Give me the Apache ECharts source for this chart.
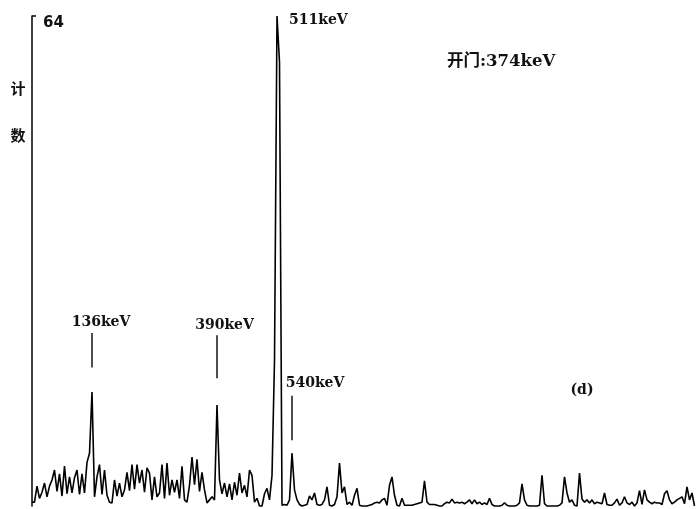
<!DOCTYPE html>
<html><head><meta charset="utf-8">
<script src="https://cdn.jsdelivr.net/npm/echarts@6/dist/echarts.min.js"></script>
<style>html,body{margin:0;padding:0;background:#fff}#c{width:697px;height:509px}</style>
</head><body><div id="c"></div>
<script>
// counts per channel (channel index 0..265)
const counts = [
0.5,0.5,2.6,1.0,1.8,3.0,1.2,2.6,3.4,4.7,
1.9,4.2,1.3,5.2,1.6,3.8,1.7,3.7,4.7,1.5,
4.2,1.7,5.7,6.9,14.9,1.2,3.8,5.4,1.5,4.7,
1.4,0.5,0.4,3.4,1.3,3.0,1.2,2.1,4.4,2.0,
5.4,2.2,5.4,3.0,4.7,1.8,5.0,4.3,0.8,3.8,
1.2,1.7,5.4,1.0,5.6,1.4,3.4,1.8,3.4,1.0,
5.2,0.8,0.5,2.7,6.4,2.8,6.1,1.9,4.4,2.1,
0.4,0.8,1.2,0.8,13.2,3.4,1.6,3.0,1.2,2.9,
0.8,3.1,1.4,4.3,1.7,2.7,1.2,4.7,4.0,0.5,
1.0,0,0,1.6,2.3,0.8,4.0,19,64,58,
0.1,0.2,0.1,0.8,6.9,2.1,0.8,0.2,0,0.1,
0.2,1.3,0.8,1.7,0.2,0.1,0.2,0.8,2.5,0.1,
0,0.2,1.2,5.6,1.7,2.5,0.2,0.5,0.1,1.4,
2.3,0.1,0,0,0,0.1,0.2,0.4,0.5,0.4,
0.8,1.0,0.1,2.7,3.8,1.4,0.1,0,1.0,0.1,
0.1,0.1,0.1,0.2,0.3,0.4,0.5,3.3,0.5,0.2,
0.2,0.2,0.1,0,0,0.3,0.5,0.4,0.9,0.4,
0.5,0.4,0.5,0.3,0.5,0.8,0.3,0.8,0.3,0.5,
0.2,0.4,0.2,1.0,0.2,0,0,0,0.1,0.4,
0.1,0,0,0,0.1,0.4,2.9,0.8,0.1,0,
0,0,0,0.1,4.0,0.3,0,0,0,0,
0,0.1,0.4,3.8,1.7,0.5,0.8,0.1,0,4.3,
0.9,0.5,0.8,0.4,0.8,0.3,0.5,0.4,0.3,1.7,
0.2,0.1,0.1,0.4,0.9,0.1,0.4,1.2,0.4,0.2,
0.5,0,0.4,2.0,0.2,2.1,0.8,0.5,0.3,0.5,
0.4,0.4,0.2,1.6,2.0,0.8,0.3,0.5,0.8,1.0,
1.2,0.3,2.5,0.8,1.7,0
];
const yMax = 64;
const yTickLabels = ['64'];
const yNameChars = ['计', '数'];
// peak markers: channel, lower end, upper end (counts)
const markerLabels = ['136keV', '390keV', '540keV'];
const markerChannels = [24, 74, 104];
const markerFrom = [18.1, 16.7, 8.6];
const markerTo = [22.6, 22.3, 14.4];
const mainPeakLabel = '511keV';
const mainPeakChannel = 98;
const gateText = '开门:374keV';
const panelText = '(d)';

const chart = echarts.init(document.getElementById('c'), null, {renderer: 'canvas'});
const data = counts.map((v, i) => [i, v]);
const markData = markerChannels.map((ch, k) => [
  {coord: [ch, markerFrom[k]]}, {coord: [ch, markerTo[k]]}
]);
chart.setOption({
  animation: false,
  grid: {left: 32, right: 0, top: 16, bottom: 3},
  xAxis: {type: 'value', min: 0, max: counts.length, show: false},
  yAxis: {
    type: 'value', min: 0, max: yMax, interval: yMax,
    axisLine: {show: true, lineStyle: {color: '#111', width: 1.6}},
    axisTick: {show: true, inside: true, length: 4, customValues: [yMax], lineStyle: {color: '#111', width: 1.6}},
    splitLine: {show: false},
    axisLabel: {
      inside: true, margin: 11, verticalAlign: 'top', customValues: [yMax],
      formatter: v => (v === yMax ? yTickLabels[0] : ''),
      color: '#111', fontSize: 15, fontWeight: 'bold', fontFamily: 'DejaVu Sans'
    }
  },
  series: [{
    type: 'line', data: data, symbol: 'none', clip: false,
    lineStyle: {color: '#000', width: 1.6},
    markLine: {
      symbol: 'none', silent: true, label: {show: false},
      lineStyle: {color: '#222', width: 1.6, type: 'solid'},
      data: markData
    }
  }]
});

function px(ch, v) { return chart.convertToPixel({gridIndex: 0}, [ch, v]); }
const serif = 'DejaVu Serif, Noto Sans CJK SC';
const graphics = [];
const offs = [[9, -11], [7.5, -10], [23, -12]];
markerLabels.forEach((t, k) => {
  const p = px(markerChannels[k], markerTo[k]);
  graphics.push({type: 'text', x: p[0] + offs[k][0], y: p[1] + offs[k][1],
    style: {text: t, font: 'bold 14px ' + serif, fill: '#111', textAlign: 'center', textVerticalAlign: 'middle'}});
});
const pm = px(mainPeakChannel, yMax);
graphics.push({type: 'text', x: pm[0] + 12, y: pm[1] + 4,
  style: {text: mainPeakLabel, font: 'bold 14px ' + serif, fill: '#111', textAlign: 'left', textVerticalAlign: 'middle'}});
graphics.push({type: 'text', x: 447, y: 62,
  style: {text: gateText, font: 'bold 16.5px ' + serif, fill: '#111', textAlign: 'left', textVerticalAlign: 'middle'}});
graphics.push({type: 'text', x: 582, y: 390,
  style: {text: panelText, font: 'bold 14px ' + serif, fill: '#111', textAlign: 'center', textVerticalAlign: 'middle'}});
graphics.push({type: 'text', x: 18, y: 88,
  style: {text: yNameChars[0], font: 'bold 15px Noto Sans CJK SC', fill: '#111', textAlign: 'center', textVerticalAlign: 'middle'}});
graphics.push({type: 'text', x: 18, y: 135,
  style: {text: yNameChars[1], font: 'bold 15px Noto Sans CJK SC', fill: '#111', textAlign: 'center', textVerticalAlign: 'middle'}});
chart.setOption({graphic: graphics});
</script></body></html>
